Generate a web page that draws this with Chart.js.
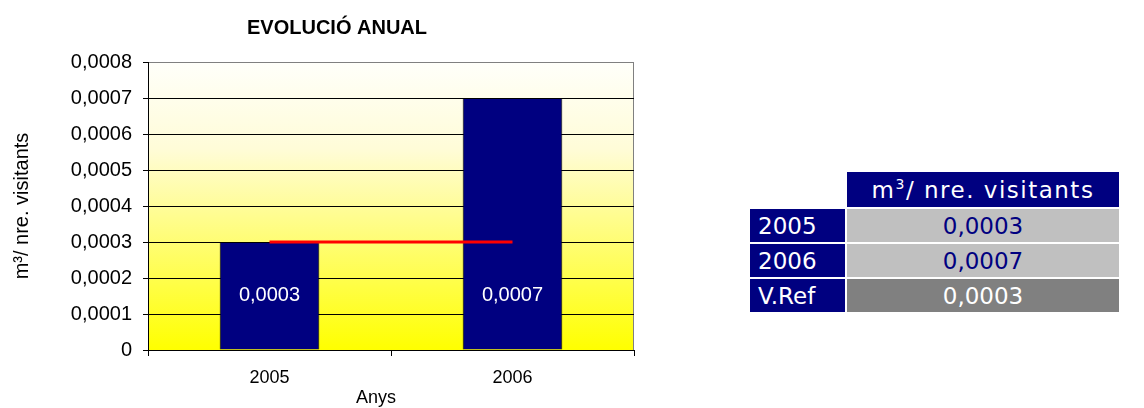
<!DOCTYPE html>
<html>
<head>
<meta charset="utf-8">
<script src="https://cdn.jsdelivr.net/npm/chart.js@4"></script>
<style>
  body { margin: 0; background: #fff; width: 1144px; height: 408px; position: relative; overflow: hidden; }
  #wrap { position: absolute; left: 0; top: 0; width: 660px; height: 408px; }
  #taula { position: absolute; left: 748px; top: 170px; border-collapse: separate; border-spacing: 2px;
           font-family: 'DejaVu Sans', sans-serif; font-size: 23px; line-height: 28px; }
  #taula td { padding: 0; height: 33px; }
  #taula .cap { background: #000080; color: #fff; text-align: center; height: 35px; letter-spacing: 1.5px; }
  #taula .any { background: #000080; color: #fff; width: 87px; padding-left: 8px; }
  #taula .val { background: #c0c0c0; color: #000080; text-align: center; width: 272px; }
  #taula .ref { background: #808080; color: #fff; text-align: center; }
  sup { font-size: 14px; line-height: 0; vertical-align: 9px; }
</style>
</head>
<body>
<div id="wrap"><canvas id="grafic" width="660" height="408"></canvas></div>
<table id="taula"></table>
<script>
// --- DADES ---
const titol = 'EVOLUCIÓ ANUAL';
const titolX = 'Anys';
const anys = ['2005', '2006'];
const valors = [0.0003, 0.0007];
const valorRef = [0.0003, 0.0003];
const filesTaula = ['2005', '2006', 'V.Ref'];
const valorsTaula = [0.0003, 0.0007, 0.0003];

const ARIAL = 'Arial, "Liberation Sans", sans-serif';

function fmt(v) {
  if (Math.abs(v) < 1e-12) return '0';
  return v.toFixed(4).replace('.', ',');
}

// taula de la dreta
const taula = document.getElementById('taula');
let html = '<tr><td></td><td class="cap">m<sup>3</sup>/ nre. visitants</td></tr>';
filesTaula.forEach((f, i) => {
  const cls = f === 'V.Ref' ? 'ref' : 'val';
  html += `<tr><td class="any">${f}</td><td class="${cls}">${fmt(valorsTaula[i])}</td></tr>`;
});
taula.innerHTML = html;

// fons degradat + vora grisa + titols
const fonsPlugin = {
  id: 'fons',
  beforeDraw(chart) {
    const { ctx, chartArea: a } = chart;
    const g = ctx.createLinearGradient(0, a.top, 0, a.bottom);
    g.addColorStop(0, '#fffffa');
    g.addColorStop(0.3, '#fffcd8');
    g.addColorStop(1, '#ffff00');
    ctx.save();
    ctx.fillStyle = g;
    ctx.fillRect(a.left, a.top, a.right - a.left, a.bottom - a.top);
    ctx.strokeStyle = '#808080';
    ctx.lineWidth = 1;
    ctx.strokeRect(a.left + 0.5, a.top + 0.5, a.right - a.left - 1, a.bottom - a.top);
    // titol del grafic
    ctx.fillStyle = '#000';
    ctx.font = 'bold 20px ' + ARIAL;
    ctx.textAlign = 'center';
    ctx.textBaseline = 'middle';
    ctx.fillText(titol, 337, 28);
    // titol de l'eix x (una mica desplaçat a l'esquerra, com a l'original)
    ctx.font = '18px ' + ARIAL;
    ctx.fillText(titolX, 376, 398);
    ctx.restore();
  }
};

// etiquetes dins les barres
const etiquetesPlugin = {
  id: 'etiquetes',
  afterDatasetsDraw(chart) {
    const { ctx } = chart;
    const meta = chart.getDatasetMeta(1);
    ctx.save();
    ctx.fillStyle = '#fff';
    ctx.font = '20px ' + ARIAL;
    ctx.textAlign = 'center';
    ctx.textBaseline = 'middle';
    meta.data.forEach((bar, i) => {
      ctx.fillText(fmt(valors[i]), bar.x, bar.base - 54);
    });
    ctx.restore();
  }
};

const ctx = document.getElementById('grafic').getContext('2d');
new Chart(ctx, {
  data: {
    labels: anys,
    datasets: [
      {
        type: 'line',
        data: valorRef,
        borderColor: '#ff0000',
        borderWidth: 3,
        pointRadius: 0,
        order: 0
      },
      {
        type: 'bar',
        data: valors,
        backgroundColor: '#000080',
        borderColor: '#000',
        borderWidth: 1,
        barPercentage: 0.41,
        categoryPercentage: 1,
        order: 1
      }
    ]
  },
  options: {
    responsive: false,
    animation: false,
    layout: { padding: { left: 0, right: 26, top: 62, bottom: 0 } },
    plugins: {
      legend: { display: false },
      tooltip: { enabled: false },
      title: { display: false }
    },
    scales: {
      x: {
        afterFit: s => { s.height = 58; },
        grid: { offset: true, drawOnChartArea: false, drawTicks: true, tickLength: 6, color: '#000' },
        border: { color: '#000' },
        ticks: { color: '#000', padding: 11, font: { family: ARIAL, size: 18 } }
      },
      y: {
        min: 0, max: 0.0008,
        afterFit: s => { s.width = 148; },
        grid: {
          color: c => (c.index === 8 ? '#808080' : '#000'),
          tickLength: 5, tickColor: '#000'
        },
        border: { color: '#000' },
        ticks: {
          stepSize: 0.0001, color: '#000', padding: 11,
          font: { family: ARIAL, size: 20 },
          callback: v => fmt(v)
        },
        title: {
          display: true, text: 'm³/ nre. visitants', color: '#000',
          font: { family: ARIAL, size: 20 },
          padding: { top: 10, bottom: 0 }
        }
      }
    }
  },
  plugins: [fonsPlugin, etiquetesPlugin]
});
</script>
</body>
</html>
